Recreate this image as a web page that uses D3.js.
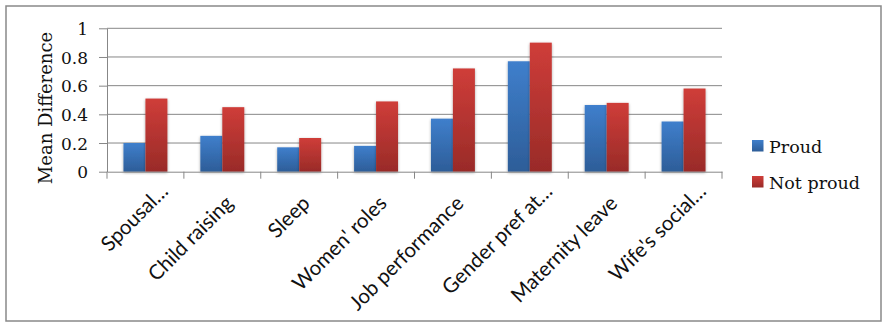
<!DOCTYPE html>
<html>
<head>
<meta charset="utf-8">
<script src="https://cdn.jsdelivr.net/npm/d3@7"></script>
<style>
  html, body { margin: 0; padding: 0; background: #fff; }
  svg { display: block; }
</style>
</head>
<body>
<svg id="chart" width="889" height="329"></svg>
<script>
// ---- data ----
const categories = ["Spousal…", "Child raising", "Sleep", "Women' roles", "Job performance", "Gender pref at…", "Maternity leave", "Wife's social…"];
const seriesNames = ["Proud", "Not proud"];
const proud    = [0.20, 0.25, 0.17, 0.18, 0.37, 0.77, 0.465, 0.35];
const notProud = [0.51, 0.45, 0.235, 0.49, 0.72, 0.90, 0.48, 0.58];
const yTicks = [0, 0.2, 0.4, 0.6, 0.8, 1];
const yTickLabels = ["0", "0.2", "0.4", "0.6", "0.8", "1"];
const yTitle = "Mean Difference";

// ---- layout ----
const svg = d3.select("#chart");
const plot = { left: 107, right: 722, top: 28.3, bottom: 171.7 };
const serif = "'DejaVu Serif', serif";
const sans = "Lato, 'Liberation Sans', sans-serif";

const colors = {
  "Proud": ["#3f7fcc", "#2d5d98"],
  "Not proud": ["#cf3d39", "#992b28"]
};

const defs = svg.append("defs");
seriesNames.forEach((s, i) => {
  const g = defs.append("linearGradient").attr("id", "grad" + i)
    .attr("x1", 0).attr("y1", 0).attr("x2", 0).attr("y2", 1);
  g.append("stop").attr("offset", "0%").attr("stop-color", colors[s][0]);
  g.append("stop").attr("offset", "100%").attr("stop-color", colors[s][1]);
});
const f = defs.append("filter").attr("id", "shadow")
  .attr("x", "-30%").attr("y", "-10%").attr("width", "160%").attr("height", "120%");
f.append("feGaussianBlur").attr("in", "SourceAlpha").attr("stdDeviation", 1.6).attr("result", "b");
f.append("feOffset").attr("in", "b").attr("dx", 0).attr("dy", 0.5).attr("result", "o");
f.append("feComponentTransfer").attr("in", "o").attr("result", "oc")
  .append("feFuncA").attr("type", "linear").attr("slope", 0.35);
const fm = f.append("feMerge");
fm.append("feMergeNode").attr("in", "oc");
fm.append("feMergeNode").attr("in", "SourceGraphic");

// outer border
svg.append("rect").attr("x", 6).attr("y", 6).attr("width", 875).attr("height", 315)
  .attr("fill", "#fff").attr("stroke", "#898989").attr("stroke-width", 1.5);

// scales
const x0 = d3.scaleBand().domain(categories).range([plot.left, plot.right]).paddingInner(0).paddingOuter(0);
const bw = x0.bandwidth();
const barW = bw / 3.5;
const x1 = d3.scaleBand().domain(seriesNames).range([(bw - 2 * barW) / 2, (bw + 2 * barW) / 2]).padding(0);
const y = d3.scaleLinear().domain([0, 1]).range([plot.bottom, plot.top]);

// gridlines
svg.append("g").selectAll("line").data(yTicks.filter(d => d > 0)).join("line")
  .attr("x1", plot.left).attr("x2", plot.right)
  .attr("y1", d => y(d)).attr("y2", d => y(d))
  .attr("stroke", "#878787").attr("stroke-width", 1);

// y axis
const yAxis = d3.axisLeft(y).tickValues(yTicks)
  .tickFormat((d, i) => yTickLabels[i]).tickSizeInner(8).tickSizeOuter(0).tickPadding(11);
const gy = svg.append("g").attr("transform", `translate(${plot.left},0)`).call(yAxis);
gy.select(".domain").attr("stroke", "#878787");
gy.selectAll(".tick line").attr("stroke", "#878787");
gy.selectAll(".tick text").attr("font-family", serif).attr("font-size", 17)
  .attr("fill", "#111").attr("dy", "0.36em");

// bars
const data = categories.map((c, i) => ({ cat: c, vals: [proud[i], notProud[i]] }));
const groups = svg.append("g").selectAll("g").data(data).join("g")
  .attr("transform", d => `translate(${x0(d.cat)},0)`);
groups.selectAll("rect").data(d => d.vals.map((v, i) => ({ s: seriesNames[i], i, v })))
  .join("rect")
  .attr("x", d => x1(d.s)).attr("width", x1.bandwidth())
  .attr("y", d => y(d.v)).attr("height", d => y(0) - y(d.v))
  .attr("fill", d => `url(#grad${d.i})`)
  .attr("filter", "url(#shadow)");

// x axis
const xAxis = d3.axisBottom(x0).tickSizeInner(0).tickSizeOuter(0).tickFormat("");
const gx = svg.append("g").attr("transform", `translate(0,${plot.bottom})`).call(xAxis);
gx.select(".domain").attr("stroke", "#878787");
gx.selectAll(".tick").remove();
const tickXs = categories.map(c => x0(c)).concat([plot.right]);
gx.selectAll("line.tk").data(tickXs).join("line").attr("class", "tk")
  .attr("x1", d => d).attr("x2", d => d).attr("y1", 0).attr("y2", 7)
  .attr("stroke", "#878787");

// x labels rotated
svg.append("g").selectAll("text").data(categories).join("text")
  .attr("transform", d => {
    const cx = x0(d) + bw / 2 + 1;
    const cy = plot.bottom + 22;
    return `translate(${cx},${cy}) rotate(-45)`;
  })
  .attr("x", d => d.endsWith("…") ? 17 : 0)
  .attr("text-anchor", "end")
  .attr("dy", "0.75em")
  .attr("font-family", sans).attr("font-size", 20.5).attr("fill", "#111")
  .text(d => d);

// y title
svg.append("text")
  .attr("transform", `translate(52,${(plot.top + plot.bottom) / 2 + 8}) rotate(-90)`)
  .attr("text-anchor", "middle")
  .attr("font-family", serif).attr("font-size", 18).attr("fill", "#111")
  .text(yTitle);

// legend
const leg = svg.append("g").attr("transform", "translate(752,140)");
seriesNames.forEach((s, i) => {
  const g = leg.append("g").attr("transform", `translate(0,${i * 36})`);
  g.append("rect").attr("x", 0).attr("y", 0).attr("width", 11.5).attr("height", 11.5)
    .attr("fill", `url(#grad${i})`);
  g.append("text").attr("x", 17).attr("y", 12.5)
    .attr("font-family", serif).attr("font-size", 17.5).attr("fill", "#111")
    .text(s);
});
</script>
</body>
</html>
